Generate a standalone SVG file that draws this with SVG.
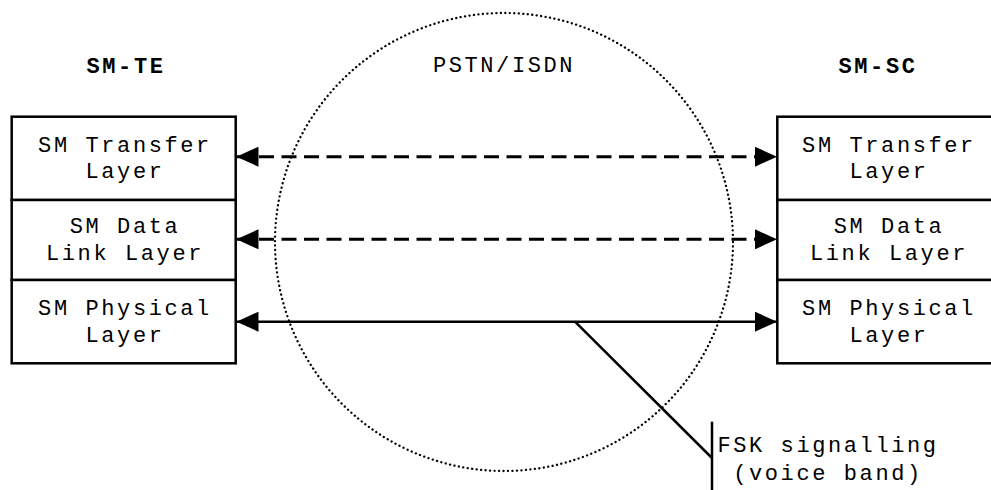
<svg xmlns="http://www.w3.org/2000/svg" width="991" height="490" viewBox="0 0 991 490">
<style>
text{font-family:"Liberation Mono","Courier New",monospace;font-size:22px;letter-spacing:2.6px;fill:#000;text-anchor:middle}
.b{font-weight:bold}
.box{fill:#fff;stroke:#000;stroke-width:2.5}
.cn{stroke:#000;stroke-width:2.5;fill:none}
.d{stroke-dasharray:15 7.5;stroke-width:3}
</style>
<defs>
<marker id="ah" viewBox="0 0 22 20" refX="22" refY="10" markerWidth="22" markerHeight="20" markerUnits="userSpaceOnUse" orient="auto-start-reverse">
<path d="M0,0 L22,10 L0,20 Z" fill="#000"/>
</marker>
</defs>
<g id="network">
<circle cx="504" cy="242" r="229" fill="none" stroke="#000" stroke-width="2.3" stroke-dasharray="0.1 4.4" stroke-linecap="round"/>
<text x="504" y="72">PSTN/ISDN</text>
</g>
<g id="sm-te">
<text class="b" x="126" y="73">SM-TE</text>
<rect class="box" x="11.7" y="116.7" width="224" height="83.3"/>
<rect class="box" x="11.7" y="200" width="224" height="80"/>
<rect class="box" x="11.7" y="280" width="224" height="83.3"/>
<text x="125" y="152">SM Transfer</text>
<text x="125" y="178">Layer</text>
<text x="125" y="233">SM Data</text>
<text x="125" y="260">Link Layer</text>
<text x="125" y="315">SM Physical</text>
<text x="125" y="342">Layer</text>
</g>
<g id="sm-sc">
<text class="b" x="878" y="73">SM-SC</text>
<rect class="box" x="777.3" y="116.7" width="224" height="83.3"/>
<rect class="box" x="777.3" y="200" width="224" height="80"/>
<rect class="box" x="777.3" y="280" width="224" height="83.3"/>
<text x="889" y="152">SM Transfer</text>
<text x="889" y="178">Layer</text>
<text x="889" y="233">SM Data</text>
<text x="889" y="260">Link Layer</text>
<text x="889" y="315">SM Physical</text>
<text x="889" y="342">Layer</text>
</g>
<g id="connectors">
<line class="cn d" x1="236.5" y1="156.7" x2="777" y2="156.7" marker-start="url(#ah)" marker-end="url(#ah)"/>
<line class="cn d" x1="236.5" y1="239.3" x2="777" y2="239.3" marker-start="url(#ah)" marker-end="url(#ah)"/>
<line class="cn" x1="236.5" y1="321.7" x2="777" y2="321.7" marker-start="url(#ah)" marker-end="url(#ah)"/>
<polyline class="cn" points="575,321.7 712,458" stroke-width="2"/>
<line class="cn" x1="712" y1="421.7" x2="712" y2="490" stroke-width="2"/>
</g>
<g id="fsk-label">
<text x="828" y="452">FSK signalling</text>
<text x="828" y="480">(voice band)</text>
</g>
</svg>
